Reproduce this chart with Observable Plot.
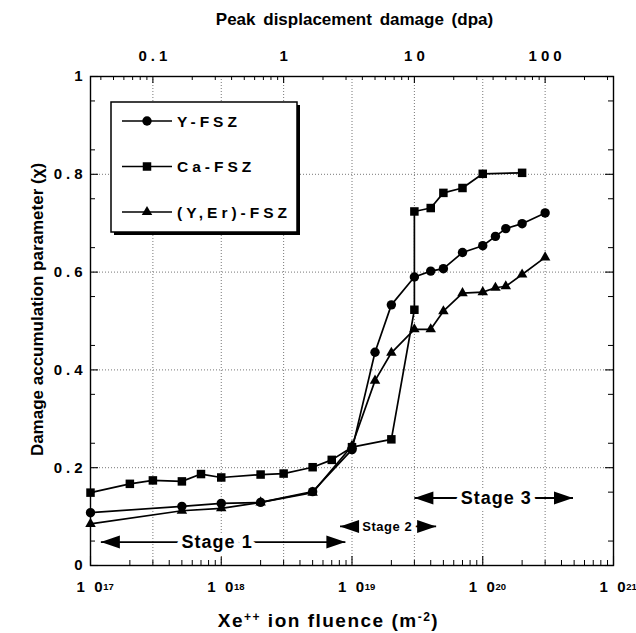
<!DOCTYPE html>
<html>
<head>
<meta charset="utf-8">
<script src="https://cdn.jsdelivr.net/npm/d3@7"></script>
<script src="https://cdn.jsdelivr.net/npm/@observablehq/plot@0.6"></script>
<style>
  body { margin: 0; background: #fff; }
  #chart svg { display: block; }
</style>
</head>
<body>
<div id="chart"></div>
<script>
// ---------- data ----------
const seriesNames = ["Y-FSZ", "Ca-FSZ", "(Y,Er)-FSZ"];

const fluenceYFSZ = [1e17, 5e17, 1e18, 2e18, 5e18, 1e19, 1.5e19, 2e19, 3e19, 4e19, 5e19, 7e19, 1e20, 1.25e20, 1.5e20, 2e20, 3e20];
const chiYFSZ     = [0.108, 0.121, 0.127, 0.129, 0.151, 0.237, 0.436, 0.533, 0.590, 0.602, 0.607, 0.640, 0.654, 0.673, 0.689, 0.699, 0.721];

const fluenceCaFSZ = [1e17, 2e17, 3e17, 5e17, 7e17, 1e18, 2e18, 3e18, 5e18, 7e18, 1e19, 2e19, 3e19, 3e19, 4e19, 5e19, 7e19, 1e20, 2e20];
const chiCaFSZ     = [0.149, 0.167, 0.174, 0.172, 0.187, 0.180, 0.186, 0.188, 0.201, 0.216, 0.242, 0.258, 0.523, 0.724, 0.731, 0.762, 0.772, 0.801, 0.803];

const fluenceYErFSZ = [1e17, 5e17, 1e18, 2e18, 5e18, 1e19, 1.5e19, 2e19, 3e19, 4e19, 5e19, 7e19, 1e20, 1.25e20, 1.5e20, 2e20, 3e20];
const chiYErFSZ     = [0.085, 0.112, 0.117, 0.129, 0.149, 0.245, 0.378, 0.435, 0.483, 0.483, 0.520, 0.557, 0.559, 0.568, 0.571, 0.595, 0.630];

// axes
const xDomain = [1e17, 1e21];
const xDecades = [1e17, 1e18, 1e19, 1e20, 1e21];
const xExponents = ["17", "18", "19", "20", "21"];
const dpaTicks = [0.1, 1, 10, 100];
const fluencePerDpa = 3e18;          // top axis: 1 dpa = 3e18 m^-2
const yTickLabels = [0, 0.2, 0.4, 0.6, 0.8, 1];

// stage annotations
const stageLabels = ["Stage 1", "Stage 2", "Stage 3"];
const stageFrom   = [1.2e17, 8.1e18, 3.0e19];
const stageTo     = [8.9e18, 4.4e19, 4.9e20];
const stageTextAt = [9.3e17, 1.86e19, 1.27e20];
const stageChi    = [0.048, 0.080, 0.138];

// ---------- layout ----------
const W = 636, H = 633;
const M = {top: 76, right: 23, bottom: 68, left: 90};
const innerW = W - M.left - M.right;
const innerH = H - M.top - M.bottom;
const FONT = '"Liberation Sans", Arial, Helvetica, sans-serif';

// ---------- tables ----------
const toRows = (xs, ys) => xs.map((f, i) => ({f, chi: ys[i]}));
const rowsY = toRows(fluenceYFSZ, chiYFSZ);
const rowsCa = toRows(fluenceCaFSZ, chiCaFSZ);
const rowsYEr = toRows(fluenceYErFSZ, chiYErFSZ);

const stages = stageLabels.map((label, i) => ({label, from: stageFrom[i], to: stageTo[i], at: stageTextAt[i], chi: stageChi[i]}));

// tick positions
const xMajor = xDecades;
const xMinor = xDecades.slice(0, -1).flatMap(d => d3.range(2, 10).map(k => k * d));
const dpaMajorF = dpaTicks.map(d => d * fluencePerDpa);
const dpaMinorF = [0.01, 0.1, 1, 10, 100].flatMap(d => d3.range(2, 10).map(k => k * d * fluencePerDpa))
  .filter(f => f > xDomain[0] && f < xDomain[1]);
const yMajor = d3.range(0, 1.0001, 0.2).map(v => +v.toFixed(2));
const yMinor = d3.range(0.05, 1, 0.1).map(v => +v.toFixed(2));
const gridX = [...xMajor.slice(1, -1), ...dpaMajorF];
const gridY = yMajor.slice(1, -1);

// arrow heads (filled, pointing right / left, tip at the anchor)
const headRight = {draw(ctx) { ctx.moveTo(0, 0); ctx.lineTo(-19, -6.5); ctx.lineTo(-19, 6.5); ctx.closePath(); }};
const headLeft  = {draw(ctx) { ctx.moveTo(0, 0); ctx.lineTo(19, -6.5); ctx.lineTo(19, 6.5); ctx.closePath(); }};

const lineStyle = {x: "f", y: "chi", stroke: "black", strokeWidth: 1.7};

const plot = Plot.plot({
  width: W, height: H,
  marginTop: M.top, marginRight: M.right, marginBottom: M.bottom, marginLeft: M.left,
  x: {type: "log", domain: xDomain, axis: null},
  y: {domain: [0, 1], axis: null},
  marks: [
    // grid
    Plot.ruleX(gridX, {stroke: "#777", strokeWidth: 1, strokeDasharray: "1,2"}),
    Plot.ruleY(gridY, {stroke: "#777", strokeWidth: 1, strokeDasharray: "1,2"}),
    // inward ticks: bottom
    Plot.ruleX(xMajor, {insetTop: innerH - 9, stroke: "black", strokeWidth: 1.1}),
    Plot.ruleX(xMinor, {insetTop: innerH - 5, stroke: "black", strokeWidth: 1}),
    // top (dpa)
    Plot.ruleX(dpaMajorF, {insetBottom: innerH - 7, stroke: "black", strokeWidth: 1.1}),
    Plot.ruleX(dpaMinorF, {insetBottom: innerH - 4, stroke: "black", strokeWidth: 1}),
    // left / right
    Plot.ruleY(yMajor, {insetRight: innerW - 8, stroke: "black", strokeWidth: 1.1}),
    Plot.ruleY(yMinor, {insetRight: innerW - 5, stroke: "black", strokeWidth: 1}),
    Plot.ruleY(yMajor, {insetLeft: innerW - 8, stroke: "black", strokeWidth: 1.1}),
    Plot.ruleY(yMinor, {insetLeft: innerW - 5, stroke: "black", strokeWidth: 1}),
    Plot.frame({stroke: "black", strokeWidth: 1.4}),

    // stage annotations
    Plot.link(stages, {x1: "from", x2: "to", y1: "chi", y2: "chi", stroke: "black", strokeWidth: 1.8}),
    Plot.text(stages.filter((d, i) => i !== 1), {x: "at", y: "chi", text: "label", fontSize: 18, fontWeight: "bold", fontFamily: FONT,
      fill: "black", stroke: "white", strokeWidth: 10, lineAnchor: "middle", ariaDescription: "stage-big"}),
    Plot.text(stages.filter((d, i) => i === 1), {x: "at", y: "chi", text: "label", fontSize: 13, fontWeight: "bold", fontFamily: FONT,
      fill: "black", stroke: "white", strokeWidth: 10, lineAnchor: "middle", ariaDescription: "stage-small"}),
    Plot.dot(stages, {x: "to", y: "chi", symbol: headRight, fill: "black", r: 5}),
    Plot.dot(stages, {x: "from", y: "chi", symbol: headLeft, fill: "black", r: 5}),

    // data
    Plot.line(rowsY, lineStyle),
    Plot.line(rowsCa, lineStyle),
    Plot.line(rowsYEr, lineStyle),
    Plot.dot(rowsY, {x: "f", y: "chi", symbol: "circle", r: 4.7, fill: "black"}),
    Plot.dot(rowsCa, {x: "f", y: "chi", symbol: "square", r: 4.8, fill: "black"}),
    Plot.dot(rowsYEr, {x: "f", y: "chi", symbol: "triangle", r: 3.9, fill: "black"}),

    // tick labels: bottom ("10" + superscript exponent, added below as tspans)
    Plot.text(xMajor, {x: d => d, text: () => "10", frameAnchor: "bottom", lineAnchor: "bottom", textAnchor: "start",
      dx: -14, dy: 26.7, fontSize: 15, fontWeight: "bold", fontFamily: FONT, ariaDescription: "xlab"}),
    // top (dpa)
    Plot.text(dpaTicks, {x: d => d * fluencePerDpa, text: d => String(d), frameAnchor: "top", lineAnchor: "bottom",
      dx: 2, dy: -15.3, fontSize: 15, fontWeight: "bold", fontFamily: FONT, ariaDescription: "spaced"}),
    // left
    Plot.text(yTickLabels, {y: d => d, text: d => String(d), frameAnchor: "left", textAnchor: "end", lineAnchor: "middle",
      dx: -4, fontSize: 15, fontWeight: "bold", fontFamily: FONT, ariaDescription: "spaced"})
  ]
});

document.getElementById("chart").appendChild(plot);
const svg = d3.select(plot);
svg.selectAll('g[aria-description="spaced"] text').attr("letter-spacing", 4);
svg.selectAll('g[aria-description="stage-big"] text').attr("letter-spacing", 1);
svg.selectAll('g[aria-description="stage-small"] text').attr("letter-spacing", 0.5);
// bottom labels: "1 0" spaced + superscript exponent in the same text element
svg.selectAll('g[aria-description="xlab"] text').each(function(_, i) {
  const t = d3.select(this);
  t.text(null);
  t.append("tspan").text("1");
  t.append("tspan").attr("dx", 9.5).text("0");
  t.append("tspan").attr("font-size", 9.5).attr("dx", 0.5).attr("dy", -2.4).text(xExponents[i]);
});

// ---------- titles ----------
const midX = M.left + innerW / 2;
svg.append("text")
  .attr("x", midX + 3).attr("y", 25)
  .attr("text-anchor", "middle")
  .attr("font-family", FONT).attr("font-weight", "bold").attr("font-size", 17)
  .attr("word-spacing", 3)
  .text("Peak displacement damage (dpa)");

const xt = svg.append("text")
  .attr("x", midX - 23).attr("y", 627)
  .attr("text-anchor", "middle")
  .attr("font-family", FONT).attr("font-weight", "bold").attr("font-size", 19)
  .attr("letter-spacing", 1.5);
xt.append("tspan").text("Xe");
xt.append("tspan").attr("font-size", 12).attr("dy", -6).text("++");
xt.append("tspan").attr("dy", 6).text(" ion fluence (m");
xt.append("tspan").attr("font-size", 12).attr("dy", -6).text("-2");
xt.append("tspan").attr("dy", 6).text(")");

svg.append("text")
  .attr("transform", `translate(43, ${M.top + innerH / 2 - 11}) rotate(-90)`)
  .attr("text-anchor", "middle")
  .attr("font-family", FONT).attr("font-weight", "bold").attr("font-size", 17)
  .text("Damage accumulation parameter (\u03C7)");

// ---------- legend ----------
const lg = svg.append("g").attr("font-family", FONT).attr("font-weight", "bold").attr("text-anchor", "start");
const box = {x: 111, y: 102, w: 186, h: 130};
lg.append("rect").attr("x", box.x + 3).attr("y", box.y + 3).attr("width", box.w).attr("height", box.h).attr("fill", "black");
lg.append("rect").attr("x", box.x).attr("y", box.y).attr("width", box.w).attr("height", box.h)
  .attr("fill", "white").attr("stroke", "black").attr("stroke-width", 1.5);
const legendSymbols = [
  {type: d3.symbolCircle, r: 4.7},
  {type: d3.symbolSquare, r: 4.8},
  {type: d3.symbolTriangle, r: 3.9}
];
seriesNames.forEach((name, i) => {
  const cy = box.y + 19 + i * 45.5;
  lg.append("line").attr("x1", box.x + 11).attr("x2", box.x + 61).attr("y1", cy).attr("y2", cy)
    .attr("stroke", "black").attr("stroke-width", 1.7);
  lg.append("path").attr("transform", `translate(${box.x + 36},${cy})`)
    .attr("d", d3.symbol(legendSymbols[i].type, Math.PI * legendSymbols[i].r ** 2)()).attr("fill", "black");
  lg.append("text").attr("x", box.x + 66).attr("y", cy + 5.5)
    .attr("font-size", 15.5).attr("letter-spacing", 4).text(name);
});
</script>
</body>
</html>
